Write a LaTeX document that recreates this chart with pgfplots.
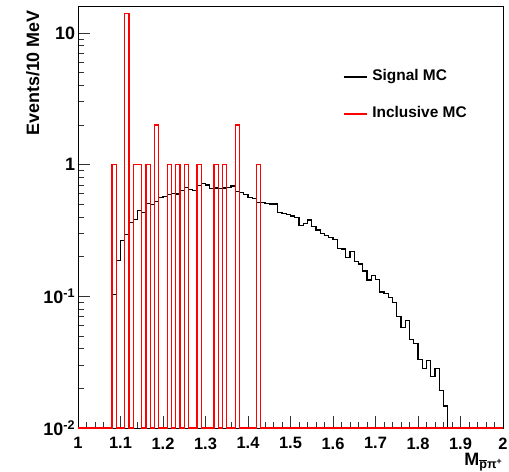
\documentclass[border=0pt]{standalone}
\usepackage{pgfplots}
\pgfplotsset{compat=1.18}
\usepackage{fontspec}
\setmainfont{Liberation Sans}
\begin{document}
\begin{tikzpicture}
\useasboundingbox (0bp,0bp) rectangle (509bp,472bp);
\begin{axis}[
  at={(78bp,44bp)}, anchor=south west,
  scale only axis, width=425bp, height=422bp,
  xmin=1, xmax=2, ymode=log, ymin=0.01, ymax=16.04,
  clip=false,
  axis line style={line width=1bp},
  tick align=inside, xtick pos=bottom, ytick pos=left,
  major tick length=12bp, minor tick length=6bp,
  every tick/.style={line width=0.8bp, black!80},
  xtick={1,1.1,1.2,1.3,1.4,1.5,1.6,1.7,1.8,1.9,2},
  xticklabels={1,1.1,1.2,1.3,1.4,1.5,1.6,1.7,1.8,1.9,2},
  minor x tick num=4,
  ytick={0.01,0.1,1,10},
  yticklabels={10\textsuperscript{-2},10\textsuperscript{-1},1,10},
  minor ytick={0.02,0.03,0.04,0.05,0.06,0.07,0.08,0.09,0.2,0.3,0.4,0.5,0.6,0.7,0.8,0.9,2,3,4,5,6,7,8,9},
  xticklabel style={font=\fontsize{16.5}{16.5}\selectfont\bfseries, yshift=-6bp},
  yticklabel style={font=\fontsize{18}{18}\selectfont\bfseries, xshift=0.5bp},
  legend style={at={(rel axis cs:0.6228,0.788)}, anchor=west, draw=none, fill=none,
    inner sep=0pt, font=\fontsize{15.5}{15.5}\selectfont\bfseries,
    row sep=23bp, column sep=5bp,
    nodes={inner sep=0pt, text height=11bp, text depth=3bp}},
  legend cell align=left,
  legend image code/.code={\draw[#1] (0bp,0bp) -- (23bp,0bp);},
]
\addplot[const plot, black, line width=1.2bp] coordinates {
(1.00,0.01) (1.08,0.104) (1.09,0.186) (1.10,0.264) (1.11,0.296) (1.12,0.365)
(1.13,0.386) (1.14,0.447) (1.15,0.431) (1.16,0.505) (1.17,0.496) (1.18,0.523)
(1.19,0.565) (1.20,0.574) (1.21,0.591) (1.22,0.605) (1.23,0.598) (1.24,0.641)
(1.25,0.668) (1.26,0.645) (1.27,0.641) (1.28,0.696) (1.29,0.716) (1.30,0.700)
(1.31,0.661) (1.32,0.664) (1.33,0.661) (1.34,0.664) (1.35,0.672) (1.36,0.688)
(1.37,0.623) (1.38,0.612) (1.39,0.591) (1.40,0.561) (1.41,0.551) (1.42,0.514)
(1.43,0.517) (1.44,0.505) (1.45,0.502) (1.46,0.502) (1.47,0.431) (1.48,0.427)
(1.49,0.420) (1.50,0.408) (1.51,0.396) (1.52,0.344) (1.53,0.358) (1.54,0.380)
(1.55,0.338) (1.56,0.319) (1.57,0.301) (1.58,0.290) (1.59,0.280) (1.60,0.272)
(1.61,0.231) (1.62,0.229) (1.63,0.198) (1.64,0.218) (1.65,0.185) (1.66,0.176)
(1.67,0.156) (1.68,0.133) (1.69,0.143) (1.70,0.135) (1.71,0.108) (1.72,0.105)
(1.73,0.0976) (1.74,0.0894) (1.75,0.070) (1.76,0.0578) (1.77,0.0653) (1.78,0.0471)
(1.79,0.044) (1.80,0.0333) (1.81,0.0284) (1.82,0.0324) (1.83,0.0245) (1.84,0.0284)
(1.85,0.0192) (1.86,0.0147) (1.87,0.01) (2.00,0.01)
};
\addlegendentry{Signal MC}
\addplot[const plot, red, line width=1.4bp] coordinates {
(1.00,0.01) (1.08,1) (1.09,0.01) (1.11,14) (1.12,0.01) (1.13,1) (1.15,0.01)
(1.16,1) (1.17,0.01) (1.18,2) (1.19,0.01) (1.21,1) (1.22,0.01) (1.23,1)
(1.24,0.01) (1.25,1) (1.26,0.01) (1.28,1) (1.29,0.01) (1.32,1) (1.33,0.01)
(1.34,1) (1.35,0.01) (1.37,2) (1.38,0.01) (1.42,1) (1.43,0.01) (2.00,0.01)
};
\addlegendentry{Inclusive MC}
\end{axis}
\node[rotate=90, anchor=base east, inner sep=0pt, font=\fontsize{18}{18}\selectfont\bfseries] at (39bp,462bp) {Events/10 MeV};
\node[anchor=base east, inner sep=0pt, font=\fontsize{18}{18}\selectfont\bfseries] at (503bp,7bp) {M\textsubscript{\(\overline{\mbox{\bfseries p}}\)π\textsuperscript{+}}};
\end{tikzpicture}
\end{document}
